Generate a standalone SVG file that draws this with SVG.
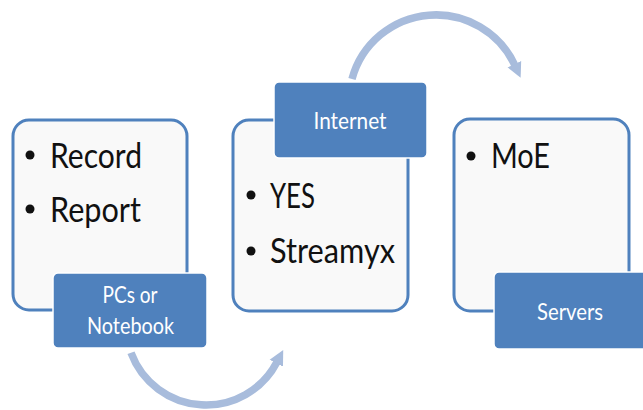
<svg xmlns="http://www.w3.org/2000/svg" width="643" height="410" viewBox="0 0 643 410">
<defs>
<style>
.box{fill:#f9f9f9;stroke:#4f81bd;stroke-width:3}
.lab{fill:#4f81bd;stroke:#ffffff;stroke-width:1.5}
.big{font-family:Lato,"Open Sans","Liberation Sans",sans-serif;font-size:35px;fill:#111111}
.lt{font-family:Lato,"Open Sans","Liberation Sans",sans-serif;font-size:23px;fill:#ffffff;text-anchor:middle}
.arc{fill:none;stroke:#a8bcdc;stroke-width:7.5}
.dot{fill:#111111}
</style>
<marker id="ah" viewBox="0 0 10 10" refX="1" refY="5" markerWidth="2" markerHeight="2.3" orient="auto" markerUnits="strokeWidth">
<path d="M0,0 L10,5 L0,10 z" fill="#a8bcdc"/>
</marker>
</defs>
<rect width="643" height="410" fill="#ffffff"/>
<g id="connectors">
<path class="arc" d="M352,79 A87,87 0 0 1 515,65.6" marker-end="url(#ah)"/>
<path class="arc" d="M131,352.8 A80,80 0 0 0 277,361.9" marker-end="url(#ah)"/>
</g>
<g id="node-pcs">
<rect class="box" x="13" y="120" width="174" height="190" rx="16"/>
<circle class="dot" cx="30" cy="155" r="4.5"/>
<text class="big" x="50" y="168" textLength="92" lengthAdjust="spacingAndGlyphs">Record</text>
<circle class="dot" cx="30" cy="209" r="4.5"/>
<text class="big" x="50" y="222" textLength="91" lengthAdjust="spacingAndGlyphs">Report</text>
<rect class="lab" x="53" y="273" width="154" height="75" rx="5"/>
<text class="lt" x="130" y="303" textLength="55" lengthAdjust="spacingAndGlyphs">PCs or</text>
<text class="lt" x="130.5" y="334" textLength="87" lengthAdjust="spacingAndGlyphs">Notebook</text>
</g>
<g id="node-internet">
<rect class="box" x="233" y="120" width="175" height="191" rx="16"/>
<circle class="dot" cx="251" cy="195" r="4.5"/>
<text class="big" x="270" y="208" textLength="45" lengthAdjust="spacingAndGlyphs">YES</text>
<circle class="dot" cx="251" cy="251" r="4.5"/>
<text class="big" x="270" y="263" textLength="125" lengthAdjust="spacingAndGlyphs">Streamyx</text>
<rect class="lab" x="274" y="82" width="153" height="76" rx="5"/>
<text class="lt" x="350" y="129" textLength="73" lengthAdjust="spacingAndGlyphs">Internet</text>
</g>
<g id="node-servers">
<rect class="box" x="454" y="119" width="175" height="192" rx="16"/>
<circle class="dot" cx="471" cy="156" r="4.5"/>
<text class="big" x="491" y="168" textLength="59" lengthAdjust="spacingAndGlyphs">MoE</text>
<rect class="lab" x="494" y="272" width="154" height="77" rx="5"/>
<text class="lt" x="570" y="320" textLength="66" lengthAdjust="spacingAndGlyphs">Servers</text>
</g>
</svg>
